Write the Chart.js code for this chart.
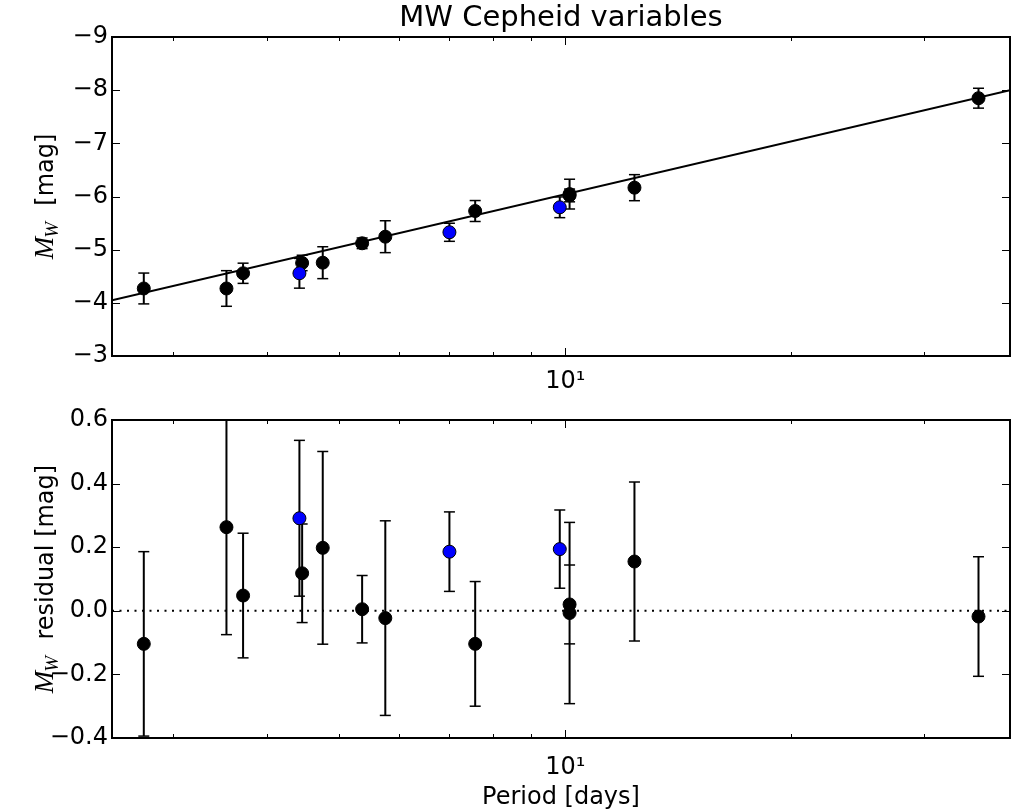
<!DOCTYPE html>
<html>
<head>
<meta charset="utf-8">
<script src="https://cdn.jsdelivr.net/npm/chart.js@4.4.1/dist/chart.umd.min.js"></script>
<style>
  body { margin: 0; background: #fff; overflow: hidden; }
  #wrap { position: relative; width: 1012px; height: 810px; background: #fff; overflow: hidden; }
  canvas { position: absolute; left: 0; }
  #top { top: 0; }
  #bottom { top: 400px; }
</style>
</head>
<body>
<div id="wrap">
  <canvas id="top" width="1012" height="400"></canvas>
  <canvas id="bottom" width="1012" height="412"></canvas>
</div>
<script>
// Cepheids: period [days], W magnitude, PL-fit residual (black = sample, blue = second group)
var periodBlack = [2.745, 3.537, 3.722, 4.461, 4.752, 5.362, 5.757, 7.584, 10.13, 10.13, 12.36, 35.5];
var magBlack    = [-4.27, -4.27, -4.556, -4.75, -4.755, -5.12, -5.244, -5.727, -6.02, -6.045, -6.166, -7.849];
var magErrBlack = [0.29, 0.335, 0.19, 0.145, 0.30, 0.10, 0.30, 0.197, 0.12, 0.28, 0.245, 0.187];
var resBlack    = [-0.104, 0.263, 0.048, 0.118, 0.198, 0.005, -0.023, -0.104, 0.020, -0.007, 0.155, -0.018];
var resErrBlack = [0.29, 0.338, 0.196, 0.155, 0.303, 0.106, 0.306, 0.196, 0.124, 0.285, 0.25, 0.188];

var periodBlue  = [4.424, 7.008, 9.83];
var magBlue     = [-4.556, -5.327, -5.797];
var magErrBlue  = [0.28, 0.17, 0.195];
var resBlue     = [0.291, 0.186, 0.194];
var resErrBlue  = [0.245, 0.125, 0.123];

// PL relation, drawn across the whole x range
var fitPeriod = [2.49, 39.1];
var fitMag    = [-4.05, -8.0];
var zeroRes   = [0, 0];

var xTicks   = [3, 4, 5, 6, 7, 8, 9, 10, 20, 30];
var magTicks = [-9, -8, -7, -6, -5, -4, -3];
var resTicks = [-0.4, -0.2, 0.0, 0.2, 0.4, 0.6];

var FONT = 'DejaVu Sans';

function pts(xs, ys) {
  return xs.map(function (x, i) { return { x: x, y: ys[i] }; });
}
// each bar: low end, high end, then a gap
function errBars(xs, ys, es) {
  var out = [];
  xs.forEach(function (x, i) {
    out.push({ x: x, y: ys[i] - es[i] }, { x: x, y: ys[i] + es[i] }, { x: x, y: null });
  });
  return out;
}
function minus(s) { return String(s).replace('-', '\u2212'); }

// matplotlib-like frame with inward ticks on all four sides
var frameTicks = {
  id: 'frameTicks',
  afterDraw: function (chart) {
    var ctx = chart.ctx, a = chart.chartArea, sx = chart.scales.x, sy = chart.scales.y;
    ctx.save();
    ctx.strokeStyle = '#000';
    ctx.lineWidth = 1;
    ctx.beginPath();
    sx.ticks.forEach(function (t) {
      var px = Math.round(sx.getPixelForValue(t.value)) + 0.5;
      var len = t.value === 10 ? 8 : 4;
      ctx.moveTo(px, a.bottom); ctx.lineTo(px, a.bottom - len);
      ctx.moveTo(px, a.top); ctx.lineTo(px, a.top + len);
    });
    sy.ticks.forEach(function (t) {
      var py = Math.round(sy.getPixelForValue(t.value)) + 0.5;
      ctx.moveTo(a.left, py); ctx.lineTo(a.left + 8, py);
      ctx.moveTo(a.right, py); ctx.lineTo(a.right - 8, py);
    });
    ctx.stroke();
    ctx.lineWidth = 2;
    ctx.strokeRect(a.left, a.top, a.right - a.left, a.bottom - a.top);
    ctx.restore();
  }
};

// rotated "M_W ... [mag]" axis label
var yLabel = {
  id: 'yLabel',
  afterDraw: function (chart, args, opts) {
    var ctx = chart.ctx, a = chart.chartArea;
    var fM = 'italic 27px "Liberation Serif"', fW = 'italic 19px "Liberation Serif"', fS = '24px "' + FONT + '"';
    ctx.save();
    ctx.translate(53, (a.top + a.bottom) / 2);
    ctx.rotate(-Math.PI / 2);
    ctx.font = fM; var wM = ctx.measureText('M').width;
    ctx.font = fW; var wW = ctx.measureText('W').width;
    ctx.font = fS; var wS = ctx.measureText(opts.text).width;
    var x0 = -(wM + wW + wS) / 2;
    ctx.fillStyle = '#000';
    ctx.textAlign = 'left';
    ctx.textBaseline = 'alphabetic';
    ctx.font = fM; ctx.fillText('M', x0, 0);
    ctx.font = fW; ctx.fillText('W', x0 + wM - 1, 5);
    ctx.font = fS; ctx.fillText(opts.text, x0 + wM + wW, 0);
    ctx.restore();
  }
};

function makePanel(id, cfg) {
  var datasets = [
    { type: 'scatter', data: pts(periodBlue, cfg.blueY), backgroundColor: '#0000ff', borderColor: '#000',
      borderWidth: 1, pointRadius: 6.5, order: 0 },
    { type: 'scatter', data: pts(periodBlack, cfg.blackY), backgroundColor: '#000', borderColor: '#000',
      borderWidth: 1, pointRadius: 6.5, order: 1 },
    { type: 'line', data: errBars(periodBlack, cfg.blackY, cfg.blackErr), borderColor: '#000', borderWidth: 2,
      spanGaps: false, pointStyle: 'line', pointRadius: 5.5, pointBorderWidth: 1.5, pointBorderColor: '#000', order: 2 },
    { type: 'line', data: errBars(periodBlue, cfg.blueY, cfg.blueErr), borderColor: '#000', borderWidth: 2,
      spanGaps: false, pointStyle: 'line', pointRadius: 5.5, pointBorderWidth: 1.5, pointBorderColor: '#000', order: 2 },
    { type: 'line', data: pts(fitPeriod, cfg.refY), borderColor: '#000', borderWidth: cfg.refWidth,
      borderDash: cfg.refDash, pointRadius: 0, order: 3 }
  ];

  return new Chart(document.getElementById(id), {
    data: { datasets: datasets },
    options: {
      responsive: false,
      animation: false,
      events: [],
      layout: { autoPadding: false, padding: { top: cfg.padTop, right: 2, left: 0, bottom: 0 } },
      scales: {
        x: {
          type: 'logarithmic',
          min: 2.49,
          max: 39.1,
          grid: { display: false, drawTicks: false },
          border: { display: false },
          afterBuildTicks: function (s) { s.ticks = xTicks.map(function (v) { return { value: v }; }); },
          afterFit: function (s) { s.height = cfg.xHeight; s.paddingLeft = 0; s.paddingRight = 0; },
          ticks: {
            autoSkip: false, maxRotation: 0, padding: cfg.xPad, color: '#000',
            font: { family: FONT, size: 24 },
            callback: function (v) { return v === 10 ? '10\u00b9' : ''; }
          },
          title: {
            display: !!cfg.xTitle, text: cfg.xTitle || '', color: '#000',
            font: { family: FONT, size: 24 }, padding: { top: 0, bottom: 0 }
          }
        },
        y: {
          type: 'linear',
          min: cfg.yMin,
          max: cfg.yMax,
          reverse: cfg.reverse,
          grid: { display: false, drawTicks: false },
          border: { display: false },
          afterBuildTicks: function (s) { s.ticks = cfg.yTicks.map(function (v) { return { value: v }; }); },
          afterFit: function (s) { s.width = 112; },
          ticks: {
            padding: 4, color: '#000',
            font: { family: FONT, size: 24 },
            callback: cfg.yFormat
          }
        }
      },
      plugins: {
        legend: { display: false },
        tooltip: { enabled: false },
        title: cfg.title ? {
          display: true, text: cfg.title, color: '#000', fullSize: false,
          font: { family: FONT, size: 29, weight: 'normal', lineHeight: 1.2 },
          padding: { top: 1, bottom: 1.2 }
        } : { display: false },
        yLabel: { text: cfg.yText }
      }
    },
    plugins: [frameTicks, yLabel]
  });
}

makePanel('top', {
  blackY: magBlack, blackErr: magErrBlack, blueY: magBlue, blueErr: magErrBlue,
  refY: fitMag, refWidth: 2, refDash: [],
  yMin: -9, yMax: -3, reverse: true, yTicks: magTicks,
  yFormat: function (v) { return minus(v); },
  yText: '  [mag]', title: 'MW Cepheid variables', padTop: 0, xHeight: 44, xPad: 11
});

makePanel('bottom', {
  blackY: resBlack, blackErr: resErrBlack, blueY: resBlue, blueErr: resErrBlue,
  refY: zeroRes, refWidth: 2, refDash: [2, 5.5],
  yMin: -0.4, yMax: 0.6, reverse: false, yTicks: resTicks,
  yFormat: function (v) { return Math.abs(v) < 1e-9 ? '0.0' : minus(v.toFixed(1)); },
  yText: '  residual [mag]', padTop: 20, xHeight: 74, xPad: 15, xTitle: 'Period [days]'
});
</script>
</body>
</html>
